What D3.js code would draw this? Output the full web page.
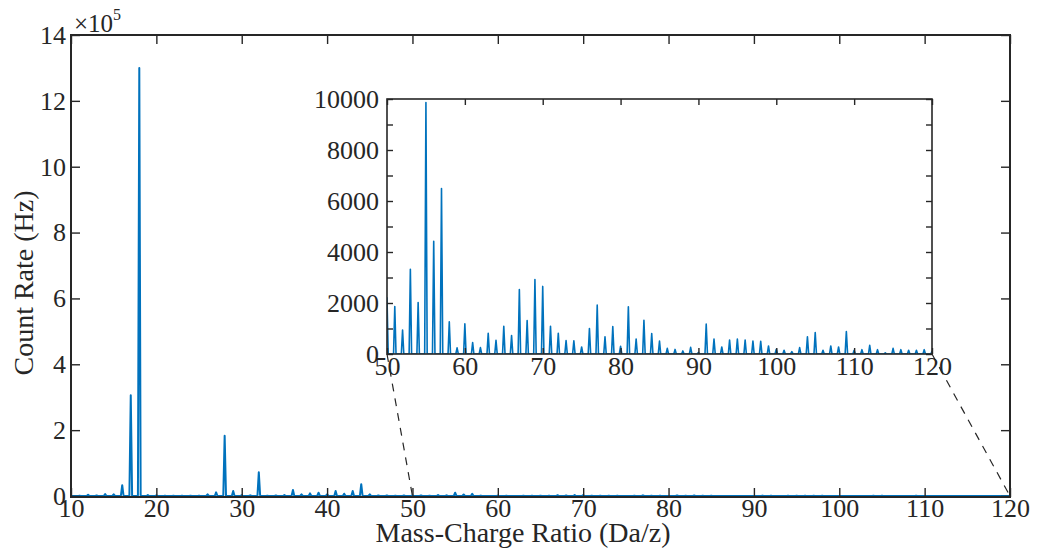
<!DOCTYPE html>
<html>
<head>
<meta charset="utf-8">
<script src="https://cdn.jsdelivr.net/npm/d3@7"></script>
<style>
  body { margin: 0; background: #fff; }
  text { font-family: "Liberation Serif", "Times New Roman", serif; fill: #262626; }
</style>
</head>
<body>
<svg id="chart" width="1037" height="550"></svg>
<script>
// peak count rate (Hz) at each integer mass 10..120
var masses = d3.range(10, 121);
var counts = [
  500, 500, 4000, 1500, 6000, 5000, 33000, 306000, 1300000, 3000,      // 10-19
  1500, 500, 500, 500, 800, 1000, 5000, 11000, 183000, 15000,          // 20-29
  2500, 2000, 72000, 1000, 1500, 3000, 18000, 5000, 8000, 10000,       // 30-39
  5000, 15000, 7000, 15000, 36000, 5000, 1500, 1500, 1000, 1500,       // 40-49
  2200, 1860, 940, 3320, 2020, 9860, 4420, 6490, 1260, 240,            // 50-59
  1180, 450, 250, 810, 540, 1090, 720, 2530, 1310, 2920,               // 60-69
  2650, 1090, 810, 530, 520, 275, 1000, 1915, 670, 1075,               // 70-79
  300, 1850, 590, 1325, 800, 510, 220, 180, 120, 260,                  // 80-89
  60, 1170, 590, 275, 550, 590, 545, 510, 500, 315,                    // 90-99
  185, 145, 90, 250, 670, 840, 145, 315, 275, 880,                     // 100-109
  145, 170, 340, 170, 50, 220, 170, 145, 145, 170,                     // 110-119
  100                                                                  // 120
];

var mainXTicks = [10, 20, 30, 40, 50, 60, 70, 80, 90, 100, 110, 120];
var mainYTicks = [0, 2, 4, 6, 8, 10, 12, 14];
var insetXTicks = [50, 60, 70, 80, 90, 100, 110, 120];
var insetYTicks = [0, 2000, 4000, 6000, 8000, 10000];
var insetYMinor = [1000, 3000, 5000, 7000, 9000];

var blue = "#0072bd", ink = "#262626";
var halfWidth = 0.16;

// spectrum as a path: each peak rises from the baseline and falls back
var points = [];
masses.forEach(function(m, i) {
  points.push([m - halfWidth, 0]);
  points.push([m, counts[i]]);
  points.push([m + halfWidth, 0]);
});

var svg = d3.select("#chart");

// ---------- main axes ----------
var mx = d3.scaleLinear().domain([10, 120]).range([71, 1010]);
var my = d3.scaleLinear().domain([0, 14]).range([496, 35]);

svg.append("clipPath").attr("id", "clipMain")
  .append("rect").attr("x", 71).attr("y", 35).attr("width", 939).attr("height", 462);

svg.append("path")
  .datum(points)
  .attr("clip-path", "url(#clipMain)")
  .attr("fill", "none")
  .attr("stroke", blue)
  .attr("stroke-width", 2)
  .attr("stroke-linejoin", "round")
  .attr("d", d3.line()
    .x(function(d) { return mx(d[0]); })
    .y(function(d) { return my(d[1] / 1e5); }));

svg.append("g")
  .attr("transform", "translate(0,497)")
  .call(d3.axisBottom(mx).tickValues(mainXTicks).tickSize(-9).tickPadding(2));
svg.append("g")
  .attr("transform", "translate(0,35)")
  .call(d3.axisTop(mx).tickValues(mainXTicks).tickSize(-9).tickFormat(""));
svg.append("g")
  .attr("transform", "translate(71,0)")
  .call(d3.axisLeft(my).tickValues(mainYTicks).tickSize(-9).tickPadding(5));
svg.append("g")
  .attr("transform", "translate(1010,0)")
  .call(d3.axisRight(my).tickValues(mainYTicks).tickSize(-9).tickFormat(""));

svg.append("rect")
  .attr("x", 71).attr("y", 35).attr("width", 939).attr("height", 462)
  .attr("fill", "none").attr("stroke", ink).attr("stroke-width", 2);

// ---------- zoom guide lines ----------
var ix = d3.scaleLinear().domain([50, 120]).range([387, 932]);
var iy = d3.scaleLinear().domain([0, 10000]).range([354, 99]);

[[50, 50], [120, 120]].forEach(function(p) {
  svg.append("line")
    .attr("x1", ix(p[0])).attr("y1", iy(0))
    .attr("x2", mx(p[1])).attr("y2", my(0))
    .attr("stroke", ink)
    .attr("stroke-width", 1.2)
    .attr("stroke-dasharray", "8,7");
});

// ---------- inset ----------
svg.append("rect")
  .attr("x", 387).attr("y", 99).attr("width", 545).attr("height", 255)
  .attr("fill", "#fff");

svg.append("clipPath").attr("id", "clipInset")
  .append("rect").attr("x", 387).attr("y", 99).attr("width", 545).attr("height", 255);

svg.append("path")
  .datum(points)
  .attr("clip-path", "url(#clipInset)")
  .attr("fill", "none")
  .attr("stroke", blue)
  .attr("stroke-width", 1.6)
  .attr("stroke-linejoin", "round")
  .attr("d", d3.line()
    .x(function(d) { return ix(d[0]); })
    .y(function(d) { return iy(d[1]); }));

svg.append("g")
  .attr("transform", "translate(0,354)")
  .call(d3.axisBottom(ix).tickValues(insetXTicks).tickSize(-6).tickPadding(3));
svg.append("g")
  .attr("transform", "translate(0,99)")
  .call(d3.axisTop(ix).tickValues(insetXTicks).tickSize(-6).tickFormat(""));
svg.append("g")
  .attr("transform", "translate(387,0)")
  .call(d3.axisLeft(iy).tickValues(insetYTicks).tickSize(-6).tickPadding(8).tickFormat(d3.format("d")));
svg.append("g")
  .attr("transform", "translate(387,0)")
  .call(d3.axisLeft(iy).tickValues(insetYMinor).tickSize(-6).tickFormat(""));
svg.append("g")
  .attr("transform", "translate(932,0)")
  .call(d3.axisRight(iy).tickValues(insetYTicks.concat(insetYMinor)).tickSize(-6).tickFormat(""));

svg.append("rect")
  .attr("x", 387).attr("y", 99).attr("width", 545).attr("height", 255)
  .attr("fill", "none").attr("stroke", ink).attr("stroke-width", 1.6);

// axis styling
svg.selectAll(".domain").remove();
svg.selectAll(".tick line").attr("stroke", ink).attr("stroke-width", 1.4);
svg.selectAll(".tick text")
  .attr("fill", ink)
  .style("font-family", "'Liberation Serif', serif")
  .style("font-size", "26px");

// ---------- titles ----------
svg.append("text")
  .attr("x", 523)
  .attr("y", 542)
  .attr("text-anchor", "middle")
  .style("font-size", "28px")
  .text("Mass-Charge Ratio (Da/z)");

svg.append("text")
  .attr("transform", "translate(33,283) rotate(-90)")
  .attr("text-anchor", "middle")
  .style("font-size", "28px")
  .text("Count Rate (Hz)");

var expo = svg.append("text")
  .attr("x", 74)
  .attr("y", 32)
  .style("font-size", "25px")
  .text("\u00d710");
expo.append("tspan")
  .attr("dy", -12)
  .style("font-size", "16px")
  .text("5");
</script>
</body>
</html>
